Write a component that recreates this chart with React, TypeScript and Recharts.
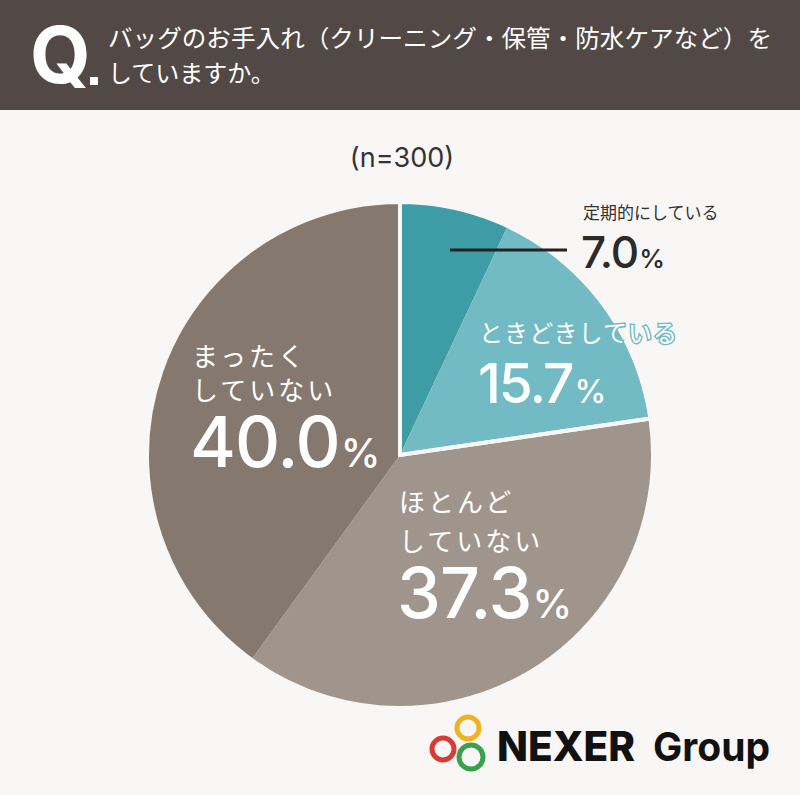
import { PieChart, Pie, Cell } from 'recharts';

const categories = ['定期的にしている', 'ときどきしている', 'ほとんどしていない', 'まったくしていない'];
const values = [7.0, 15.7, 37.3, 40.0];
const colors = ['#3d9ca6', '#72bbc4', '#9f958c', '#85796f'];
// teal answers vs. brown answers, used only for the white divider strokes
const groups = [values[0] + values[1], values[2] + values[3]];

const data = categories.map((name, i) => ({ name, value: values[i] }));
const groupData = groups.map((value, i) => ({ name: `g${i}`, value }));

const BG = '#f8f7f5';
const JP = '"Noto Sans CJK JP", "Noto Sans", sans-serif';
const NUM = 'Inter, "Noto Sans", sans-serif';

const fmt = (v: number) => v.toFixed(1);

const renderLabel = (props: any) => {
  const { cx, cy, index } = props;
  const v = fmt(values[index]);
  if (index === 0) {
    return (
      <g>
        <line x1={cx + 50} y1={cy - 205} x2={cx + 167} y2={cy - 205} stroke="#222" strokeWidth={3} />
        <text x={cx + 183} y={cy - 236} fontFamily={JP} fontSize={17} fill="#333">{categories[0]}</text>
        <text x={cx + 181} y={cy - 187} fontFamily={NUM} fontWeight={500} fontSize={44} fill="#2b2b2b" letterSpacing={-1}>
          {v}<tspan fontSize={26} dx={1}>%</tspan>
        </text>
      </g>
    );
  }
  if (index === 1) {
    return (
      <g>
        <text x={cx + 79} y={cy - 113} fontFamily={JP} fontSize={24} fill="#fff" stroke="#72bbc4" strokeWidth={3}
          paintOrder="stroke" textLength={198}>{categories[1]}</text>
        <text x={cx + 78} y={cy - 52} fontFamily={NUM} fontWeight={500} fontSize={55} fill="#fff" letterSpacing={-2}>
          {v}<tspan fontSize={32} dx={2}>%</tspan>
        </text>
      </g>
    );
  }
  if (index === 2) {
    return (
      <g>
        <text x={cx - 1} y={cy + 57} fontFamily={JP} fontSize={26} fill="#fff" letterSpacing={3}>ほとんど</text>
        <text x={cx - 1} y={cy + 96} fontFamily={JP} fontSize={26} fill="#fff" letterSpacing={3}>していない</text>
        <text x={cx - 3} y={cy + 163} fontFamily={NUM} fontWeight={500} fontSize={70} fill="#fff" letterSpacing={-1}>
          {v}<tspan fontSize={40} dx={1}>%</tspan>
        </text>
      </g>
    );
  }
  return (
    <g>
      <text x={cx - 208} y={cy - 89} fontFamily={JP} fontSize={26} fill="#fff" letterSpacing={3}>まったく</text>
      <text x={cx - 208} y={cy - 55} fontFamily={JP} fontSize={26} fill="#fff" letterSpacing={3}>していない</text>
      <text x={cx - 210} y={cy + 12} fontFamily={NUM} fontWeight={500} fontSize={70} fill="#fff" letterSpacing={-1}>
        {v}<tspan fontSize={40} dx={1}>%</tspan>
      </text>
    </g>
  );
};

export default function App() {
  return (
    <div style={{ position: 'absolute', left: 0, top: 0, width: 800, height: 795, background: BG, overflow: 'hidden' }}>
      <div style={{ position: 'absolute', left: 0, top: 0 }}>
        <PieChart width={800} height={795} margin={{ top: 0, right: 0, bottom: 0, left: 0 }}>
          <Pie
            data={data}
            dataKey="value"
            cx={400}
            cy={455}
            outerRadius={253}
            startAngle={90}
            endAngle={-270}
            stroke="none"
            labelLine={false}
            label={renderLabel}
            isAnimationActive={false}
          >
            {data.map((_e, i) => (
              <Cell key={`c-${i}`} fill={colors[i]} stroke="none" />
            ))}
          </Pie>
          <Pie
            data={groupData}
            dataKey="value"
            cx={400}
            cy={455}
            outerRadius={253}
            startAngle={90}
            endAngle={-270}
            fill="none"
            stroke={BG}
            strokeWidth={4}
            isAnimationActive={false}
          >
            {groupData.map((_e, i) => (
              <Cell key={`g-${i}`} fill="none" stroke={BG} strokeWidth={4} />
            ))}
          </Pie>
        </PieChart>
      </div>
      <svg width={800} height={795} style={{ position: 'absolute', left: 0, top: 0, pointerEvents: 'none' }}>
        <rect x={0} y={0} width={800} height={110} fill="#524947" />
        <text x={30} y={83} fontFamily={NUM} fontWeight={700} fontSize={78} fill="#fff">Q</text>
        <rect x={90} y={77} width={8} height={8} fill="#fff" />
        <text x={108} y={47} fontFamily={JP} fontSize={24} fill="#fff" textLength={664} lengthAdjust="spacingAndGlyphs">
          バッグのお手入れ（クリーニング・保管・防水ケアなど）を
        </text>
        <text x={108} y={82} fontFamily={JP} fontSize={24} fill="#fff">していますか。</text>
        <text x={402} y={167} textAnchor="middle" fontFamily={NUM} fontSize={27} fill="#333">(n=300)</text>
        <circle cx={468} cy={728} r={11} fill="none" stroke="#f0b323" strokeWidth={5} />
        <circle cx={443} cy={749} r={11} fill="none" stroke="#d93a33" strokeWidth={5} />
        <circle cx={471} cy={757} r={12} fill="none" stroke="#3aa14a" strokeWidth={5} />
        <text x={497} y={761} fontFamily={NUM} fontWeight={800} fontSize={41} fill="#111" textLength={138} lengthAdjust="spacingAndGlyphs">NEXER</text>
        <text x={653} y={761} fontFamily={NUM} fontWeight={700} fontSize={40} fill="#111" textLength={117} lengthAdjust="spacingAndGlyphs">Group</text>
      </svg>
    </div>
  );
}
